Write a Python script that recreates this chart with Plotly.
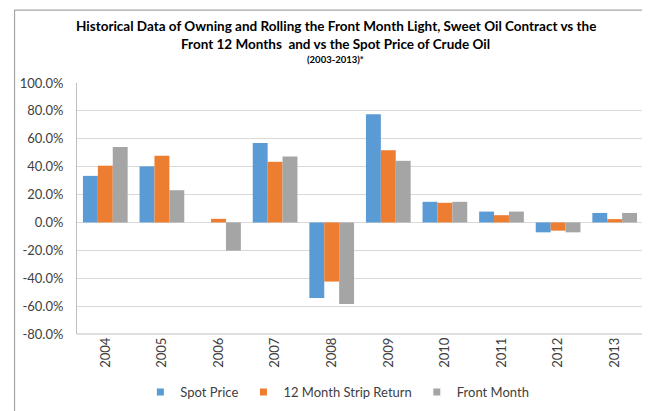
import plotly.graph_objects as go

years = ["2004", "2005", "2006", "2007", "2008", "2009", "2010", "2011", "2012", "2013"]
spot_price = [33.4, 40.2, None, 57.0, -54.1, 77.6, 14.8, 7.8, -7.1, 6.8]
strip_12m = [40.7, 47.8, 2.6, 43.5, -42.4, 51.8, 14.1, 5.2, -5.9, 2.4]
front_month = [54.1, 23.1, -20.2, 47.3, -58.4, 44.2, 14.8, 7.8, -7.1, 6.8]
y_ticks = [100, 80, 60, 40, 20, 0, -20, -40, -60, -80]
y_tick_text = [f"{v:.1f}%" for v in y_ticks]
series_names = ["Spot Price", "12 Month Strip Return", "Front Month"]
series_colors = ["#5b9bd5", "#ed7d31", "#a5a5a5"]

W, H = 650, 411
L, R, T, B = 64, 15, 75, 81
pw, ph = W - L - R, H - T - B
FONT = "Lato"

fig = go.Figure()
for name, vals, col in zip(series_names, [spot_price, strip_12m, front_month], series_colors):
    fig.add_trace(go.Bar(x=years, y=vals, name=name, showlegend=False,
                         marker=dict(color=col, line=dict(width=0))))
# legend entries with small square swatches
for name, col in zip(series_names, series_colors):
    fig.add_trace(go.Scatter(x=[None], y=[None], mode="markers", name=name,
                             marker=dict(symbol="square", size=7, color=col), showlegend=True))

def px_x(p):
    return (p - L) / pw

def px_y(p):
    return 1 - (p - T) / ph

fig.update_layout(
    width=W, height=H,
    margin=dict(l=L, r=R, t=T, b=B),
    paper_bgcolor="white", plot_bgcolor="white",
    barmode="group", bargap=0.21, bargroupgap=0,
    font=dict(family=FONT, size=13, color="#404040"),
    legend=dict(orientation="h", x=0.46, xanchor="center", y=px_y(389), yanchor="middle",
                font=dict(family=FONT, size=13, color="#404040"),
                itemwidth=30, traceorder="normal"),
    xaxis=dict(type="category", tickangle=-90, showgrid=False, ticks="",
               showline=False, tickfont=dict(family=FONT, size=13, color="#404040")),
    yaxis=dict(range=[-80, 100], tickvals=y_ticks, ticktext=y_tick_text,
               showgrid=True, gridcolor="#d9d9d9", gridwidth=1,
               zeroline=True, zerolinecolor="#d9d9d9", zerolinewidth=1,
               showline=True, linecolor="#bfbfbf", linewidth=1, ticks="",
               ticklabelstandoff=10,
               tickfont=dict(family=FONT, size=13, color="#404040")),
    shapes=[
        dict(type="rect", xref="paper", yref="paper",
             x0=px_x(1), x1=px_x(W - 1), y0=px_y(H - 1), y1=px_y(1),
             line=dict(color="#a6a6a6", width=1.2), fillcolor="rgba(0,0,0,0)", layer="below"),
        dict(type="line", xref="paper", yref="paper", x0=0, x1=1, y0=0, y1=0,
             line=dict(color="#bfbfbf", width=1)),
    ],
    annotations=[
        dict(text="<b>Historical Data of Owning and Rolling the Front Month Light, Sweet Oil Contract vs the</b>",
             xref="paper", yref="paper", x=px_x(W / 2), y=px_y(17), xanchor="center", yanchor="middle",
             showarrow=False, font=dict(family=FONT, size=13.5, color="#000000")),
        dict(text="<b>Front 12 Months  and vs the Spot Price of Crude Oil</b>",
             xref="paper", yref="paper", x=px_x(W / 2), y=px_y(35), xanchor="center", yanchor="middle",
             showarrow=False, font=dict(family=FONT, size=13.5, color="#000000")),
        dict(text="<b>(2003-2013)*</b>",
             xref="paper", yref="paper", x=px_x(W / 2), y=px_y(51), xanchor="center", yanchor="middle",
             showarrow=False, font=dict(family=FONT, size=9.5, color="#000000")),
    ],
)

fig.write_html("out.html")
